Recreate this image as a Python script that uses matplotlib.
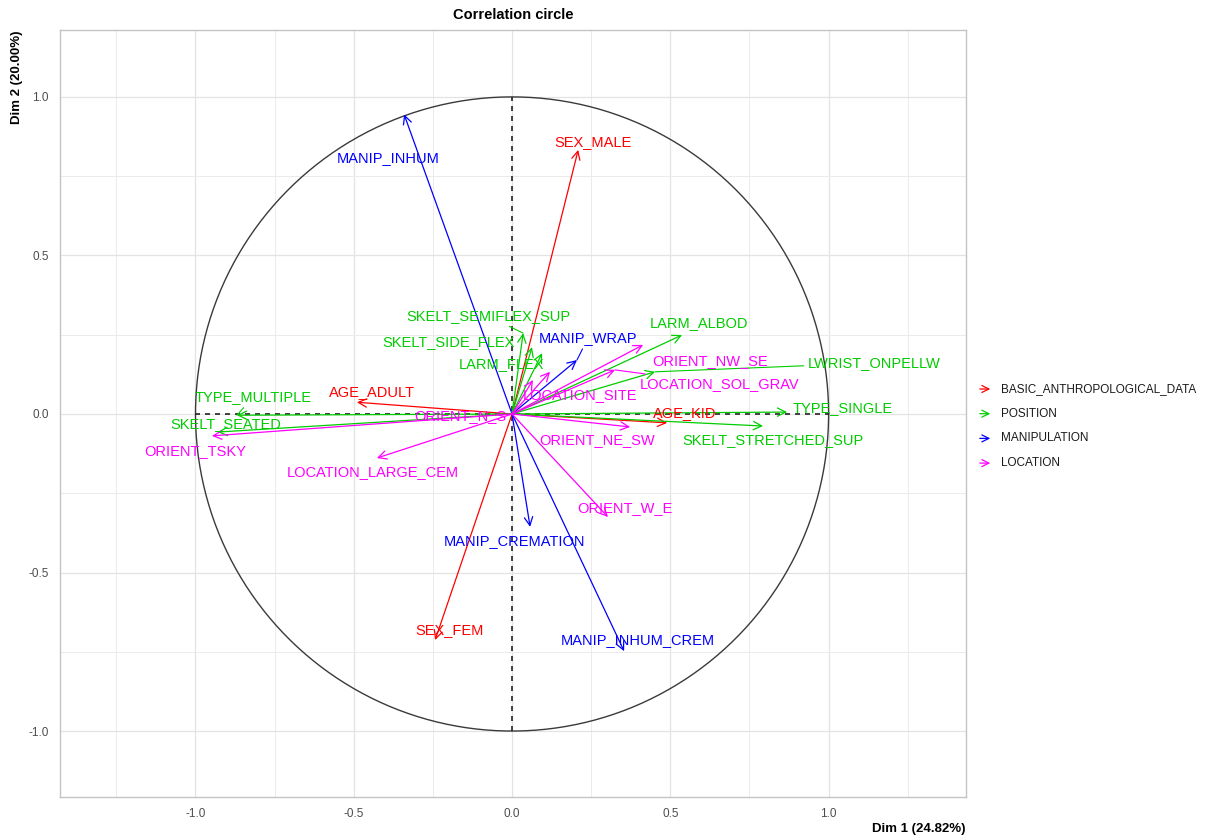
#!/usr/bin/env python3
# -*- coding: utf-8 -*-
"""
相关圆图 (Correlation circle) - 变量在 Dim 1 / Dim 2 上的坐标
"""
import numpy as np
import matplotlib
matplotlib.use('Agg')  # 非交互式后端
import matplotlib.pyplot as plt

plt.rcParams['font.family'] = ['Liberation Sans', 'DejaVu Sans']

# 数据
VARIABLES = [
    'SEX_MALE', 'AGE_ADULT', 'AGE_KID', 'SEX_FEM',
    'MANIP_INHUM', 'MANIP_WRAP', 'MANIP_CREMATION', 'MANIP_INHUM_CREM',
    'SKELT_SEMIFLEX_SUP', 'SKELT_SIDE_FLEX', 'LARM_FLEX', 'LARM_ALBOD',
    'LWRIST_ONPELLW', 'TYPE_SINGLE', 'SKELT_STRETCHED_SUP', 'TYPE_MULTIPLE',
    'SKELT_SEATED',
    'ORIENT_NW_SE', 'LOCATION_SOL_GRAV', 'LOCATION_SITE', 'ORIENT_N_S',
    'ORIENT_NE_SW', 'ORIENT_W_E', 'ORIENT_TSKY', 'LOCATION_LARGE_CEM',
]
GROUPS = (['BASIC_ANTHROPOLOGICAL_DATA'] * 4 + ['MANIPULATION'] * 4
          + ['POSITION'] * 9 + ['LOCATION'] * 8)
DIM1 = [0.209, -0.490, 0.490, -0.243,
        -0.341, 0.205, 0.057, 0.354,
        0.035, 0.063, 0.095, 0.537,
        0.452, 0.869, 0.793, -0.869,
        -0.930,
        0.414, 0.325, 0.120, 0.066,
        0.373, 0.303, -0.948, -0.427]
DIM2 = [0.833, 0.037, -0.028, -0.713,
        0.945, 0.170, -0.356, -0.748,
        0.255, 0.211, 0.192, 0.249,
        0.133, 0.006, -0.038, -0.004,
        -0.057,
        0.218, 0.139, 0.133, 0.107,
        -0.041, -0.325, -0.069, -0.139]
GROUP_ORDER = ['BASIC_ANTHROPOLOGICAL_DATA', 'POSITION', 'MANIPULATION', 'LOCATION']
DIM1_PCT = 24.82
DIM2_PCT = 20.00

# 样式 / 布局
GROUP_COLORS = {
    'BASIC_ANTHROPOLOGICAL_DATA': '#FF0000',
    'POSITION': '#00CD00',
    'MANIPULATION': '#0000FF',
    'LOCATION': '#FF00FF',
}
# 标签位置 (类似 ggrepel 的结果)
LABEL_POS = {
    'SEX_MALE': (0.256, 0.858), 'AGE_ADULT': (-0.442, 0.069),
    'AGE_KID': (0.547, 0.003), 'SEX_FEM': (-0.199, -0.681),
    'MANIP_INHUM': (-0.392, 0.808), 'MANIP_WRAP': (0.240, 0.240),
    'MANIP_CREMATION': (0.009, -0.401), 'MANIP_INHUM_CREM': (0.398, -0.713),
    'SKELT_SEMIFLEX_SUP': (-0.076, 0.309), 'SKELT_SIDE_FLEX': (-0.202, 0.227),
    'LARM_FLEX': (-0.032, 0.158), 'LARM_ALBOD': (0.591, 0.287),
    'LWRIST_ONPELLW': (1.144, 0.161), 'TYPE_SINGLE': (1.043, 0.019),
    'SKELT_STRETCHED_SUP': (0.825, -0.082), 'TYPE_MULTIPLE': (-0.818, 0.054),
    'SKELT_SEATED': (-0.904, -0.032),
    'ORIENT_NW_SE': (0.626, 0.167), 'LOCATION_SOL_GRAV': (0.657, 0.095),
    'LOCATION_SITE': (0.215, 0.060), 'ORIENT_N_S': (-0.164, -0.006),
    'ORIENT_NE_SW': (0.269, -0.082), 'ORIENT_W_E': (0.357, -0.297),
    'ORIENT_TSKY': (-1.002, -0.117), 'LOCATION_LARGE_CEM': (-0.439, -0.183),
}
SEGMENT_LABELS = ['MANIP_WRAP', 'LWRIST_ONPELLW', 'LOCATION_SOL_GRAV',
                  'SKELT_SEMIFLEX_SUP', 'TYPE_MULTIPLE']

FIG_W, FIG_H = 1225, 839
PANEL = (60, 30, 966, 797)  # left, top, right, bottom (像素)
XLIM = (-1.428, 1.434)
YLIM = (-1.208, 1.211)


def draw_panel(ax):
    """网格、边框、相关圆与虚线轴"""
    ax.set_xlim(*XLIM)
    ax.set_ylim(*YLIM)
    ticks = [-1.0, -0.5, 0.0, 0.5, 1.0]
    ax.set_xticks(ticks)
    ax.set_yticks(ticks)
    ax.set_xticklabels([f'{t:.1f}' for t in ticks])
    ax.set_yticklabels([f'{t:.1f}' for t in ticks])
    ax.set_xticks([-1.25, -0.75, -0.25, 0.25, 0.75, 1.25], minor=True)
    ax.set_yticks([-0.75, -0.25, 0.25, 0.75], minor=True)
    ax.tick_params(which='both', length=0, colors='#4D4D4D', labelsize=8.5, pad=8)
    ax.grid(True, which='major', color='#E3E3E3', lw=0.9)
    ax.grid(True, which='minor', color='#EBEBEB', lw=0.7)
    ax.set_axisbelow(True)
    for sp in ax.spines.values():
        sp.set_color('#C4C4C4')
        sp.set_linewidth(1.0)

    theta = np.linspace(0, 2 * np.pi, 400)
    ax.plot(np.cos(theta), np.sin(theta), color='#3A3A3A', lw=1.0, zorder=2)
    ax.plot([-1, 1], [0, 0], color='#222222', lw=1.2, ls=(0, (3, 3)), zorder=2)
    ax.plot([0, 0], [-1, 1], color='#222222', lw=1.2, ls=(0, (3, 3)), zorder=2)


def draw_arrows(ax):
    """变量箭头和标签"""
    for name, grp, x, y in zip(VARIABLES, GROUPS, DIM1, DIM2):
        col = GROUP_COLORS[grp]
        ax.annotate('', xy=(x, y), xytext=(0, 0),
                    arrowprops=dict(arrowstyle='->,head_length=0.6,head_width=0.3',
                                    color=col, lw=0.9, shrinkA=0, shrinkB=0),
                    zorder=3)
    for name, grp, x, y in zip(VARIABLES, GROUPS, DIM1, DIM2):
        col = GROUP_COLORS[grp]
        lx, ly = LABEL_POS[name]
        if name in SEGMENT_LABELS:
            ax.annotate(name, xy=(x, y), xytext=(lx, ly), color=col,
                        fontsize=10.5, ha='center', va='center',
                        arrowprops=dict(arrowstyle='-', color=col, lw=0.8,
                                        shrinkA=1, shrinkB=0),
                        zorder=4)
        else:
            ax.text(lx, ly, name, color=col, fontsize=10.5,
                    ha='center', va='center', zorder=4)


def draw_legend(fig):
    """图例 (右侧)"""
    x0, x1, xt = 977, 993, 1001
    for i, grp in enumerate(GROUP_ORDER):
        yy = 389 + i * 24.7
        fy = 1 - yy / FIG_H
        fig.patches  # noqa
        ann = fig.add_artist(matplotlib.patches.FancyArrowPatch(
            (x0 / FIG_W, fy), (x1 / FIG_W, fy), transform=fig.transFigure,
            arrowstyle='->,head_length=0.5,head_width=0.25', mutation_scale=10,
            color=GROUP_COLORS[grp], lw=0.9))
        fig.text(xt / FIG_W, fy, grp, fontsize=8.5, color='#1A1A1A',
                 ha='left', va='center')


def main():
    fig = plt.figure(figsize=(FIG_W / 100, FIG_H / 100), dpi=100)
    l, t, r, b = PANEL
    ax = fig.add_axes([l / FIG_W, 1 - b / FIG_H, (r - l) / FIG_W, (b - t) / FIG_H])
    draw_panel(ax)
    draw_arrows(ax)
    draw_legend(fig)

    # 标题与坐标轴标题
    fig.text((l + r) / 2 / FIG_W, 1 - 15 / FIG_H, 'Correlation circle',
             fontsize=10.5, fontweight='bold', ha='center', va='center')
    fig.text(r / FIG_W, 1 - 829 / FIG_H, f'Dim 1 ({DIM1_PCT:.2f}%)',
             fontsize=9.5, fontweight='bold', ha='right', va='center')
    fig.text(17 / FIG_W, 1 - t / FIG_H, f'Dim 2 ({DIM2_PCT:.2f}%)',
             fontsize=9.5, fontweight='bold', ha='center', va='top', rotation=90)

    fig.savefig('out.png', dpi=100)
    plt.close(fig)


if __name__ == '__main__':
    main()
